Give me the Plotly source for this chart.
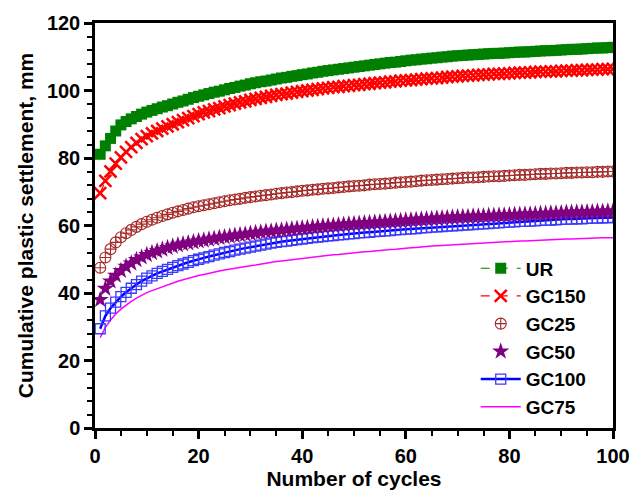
import plotly.graph_objects as go

cycles = list(range(1, 101))

ur = [81.1, 83.6, 85.8, 88.0, 89.8, 90.8, 91.6, 92.3, 93.0, 93.6,
      94.1, 94.6, 95.1, 95.5, 96.0, 96.5, 96.9, 97.4, 97.9, 98.3,
      98.7, 99.1, 99.5, 99.8, 100.2, 100.6, 100.9, 101.3, 101.6, 102.0,
      102.3, 102.6, 102.8, 103.1, 103.4, 103.7, 103.9, 104.2, 104.4, 104.7,
      104.9, 105.2, 105.4, 105.7, 105.9, 106.1, 106.3, 106.5, 106.7, 106.9,
      107.1, 107.3, 107.5, 107.7, 107.9, 108.1, 108.3, 108.4, 108.6, 108.8,
      109.0, 109.1, 109.3, 109.4, 109.6, 109.7, 109.9, 110.0, 110.2, 110.3,
      110.4, 110.5, 110.6, 110.7, 110.8, 110.9, 111.0, 111.0, 111.1, 111.2,
      111.3, 111.4, 111.4, 111.5, 111.6, 111.7, 111.8, 111.8, 111.9, 112.0,
      112.1, 112.2, 112.2, 112.3, 112.4, 112.5, 112.6, 112.6, 112.7, 112.8]

gc150 = [69.6, 73.2, 76.0, 78.3, 80.2, 81.8, 83.2, 84.5, 85.6, 86.5,
         87.3, 88.0, 88.7, 89.4, 90.0, 90.6, 91.2, 91.8, 92.4, 93.0,
         93.5, 93.9, 94.4, 94.8, 95.3, 95.7, 96.1, 96.5, 96.8, 97.2,
         97.5, 97.8, 98.1, 98.4, 98.7, 98.9, 99.1, 99.4, 99.6, 99.8,
         100.0, 100.2, 100.4, 100.6, 100.8, 101.0, 101.1, 101.3, 101.4, 101.6,
         101.7, 101.9, 102.0, 102.2, 102.3, 102.4, 102.6, 102.7, 102.9, 103.0,
         103.1, 103.2, 103.4, 103.5, 103.6, 103.7, 103.8, 104.0, 104.1, 104.2,
         104.3, 104.4, 104.5, 104.6, 104.7, 104.8, 104.9, 104.9, 105.0, 105.1,
         105.2, 105.3, 105.3, 105.4, 105.5, 105.6, 105.6, 105.7, 105.7, 105.8,
         105.9, 105.9, 106.0, 106.0, 106.1, 106.2, 106.2, 106.3, 106.3, 106.4]

gc25 = [47.5, 50.5, 53.0, 55.0, 56.5, 57.7, 58.7, 59.6, 60.4, 61.1,
        61.7, 62.3, 62.8, 63.3, 63.8, 64.2, 64.6, 65.0, 65.4, 65.7,
        66.0, 66.3, 66.6, 66.9, 67.2, 67.5, 67.7, 67.9, 68.2, 68.4,
        68.6, 68.8, 69.0, 69.2, 69.4, 69.6, 69.8, 69.9, 70.1, 70.3,
        70.4, 70.6, 70.7, 70.9, 71.0, 71.1, 71.3, 71.4, 71.6, 71.7,
        71.8, 71.9, 72.1, 72.2, 72.3, 72.4, 72.5, 72.7, 72.8, 72.9,
        73.0, 73.1, 73.3, 73.4, 73.5, 73.6, 73.7, 73.8, 73.9, 74.0,
        74.1, 74.2, 74.2, 74.3, 74.4, 74.5, 74.6, 74.6, 74.7, 74.8,
        74.9, 75.0, 75.0, 75.1, 75.2, 75.3, 75.3, 75.4, 75.4, 75.5,
        75.6, 75.6, 75.7, 75.7, 75.8, 75.8, 75.9, 75.9, 76.0, 76.0]

gc50 = [38.0, 41.3, 43.5, 45.2, 46.6, 47.8, 48.8, 49.8, 50.6, 51.3,
        51.9, 52.4, 52.9, 53.4, 53.8, 54.2, 54.5, 54.8, 55.1, 55.4,
        55.6, 55.9, 56.1, 56.4, 56.6, 56.8, 57.0, 57.2, 57.4, 57.6,
        57.8, 58.0, 58.2, 58.3, 58.5, 58.6, 58.8, 58.9, 59.1, 59.2,
        59.3, 59.5, 59.6, 59.8, 59.9, 60.0, 60.1, 60.3, 60.4, 60.5,
        60.6, 60.7, 60.8, 60.9, 61.0, 61.1, 61.2, 61.3, 61.4, 61.5,
        61.6, 61.7, 61.8, 61.9, 62.0, 62.1, 62.2, 62.3, 62.4, 62.5,
        62.6, 62.6, 62.7, 62.7, 62.8, 62.9, 62.9, 63.0, 63.0, 63.1,
        63.2, 63.2, 63.3, 63.3, 63.4, 63.5, 63.5, 63.6, 63.6, 63.7,
        63.8, 63.8, 63.9, 63.9, 64.0, 64.0, 64.1, 64.1, 64.2, 64.2]

gc100 = [29.4, 33.2, 35.5, 37.3, 38.9, 40.2, 41.4, 42.5, 43.5, 44.4,
         45.1, 45.8, 46.4, 47.0, 47.6, 48.1, 48.6, 49.1, 49.6, 50.0,
         50.4, 50.8, 51.2, 51.6, 52.0, 52.3, 52.7, 53.0, 53.3, 53.6,
         53.9, 54.2, 54.5, 54.8, 55.0, 55.2, 55.4, 55.6, 55.8, 56.0,
         56.2, 56.4, 56.6, 56.7, 56.9, 57.0, 57.2, 57.3, 57.5, 57.6,
         57.8, 57.9, 58.0, 58.2, 58.3, 58.4, 58.5, 58.7, 58.8, 58.9,
         59.0, 59.1, 59.3, 59.4, 59.5, 59.6, 59.7, 59.8, 59.9, 60.0,
         60.1, 60.2, 60.3, 60.4, 60.5, 60.6, 60.7, 60.8, 60.9, 61.0,
         61.1, 61.2, 61.2, 61.3, 61.4, 61.5, 61.6, 61.6, 61.7, 61.8,
         61.9, 61.9, 62.0, 62.0, 62.1, 62.2, 62.2, 62.3, 62.3, 62.4]

gc75 = [26.8, 29.8, 32.0, 33.8, 35.2, 36.4, 37.5, 38.5, 39.4, 40.1,
        40.7, 41.3, 41.9, 42.5, 43.0, 43.5, 43.9, 44.4, 44.8, 45.2,
        45.5, 45.9, 46.2, 46.5, 46.8, 47.1, 47.3, 47.6, 47.9, 48.1,
        48.3, 48.6, 48.8, 49.1, 49.3, 49.5, 49.7, 49.9, 50.1, 50.3,
        50.5, 50.6, 50.8, 50.9, 51.1, 51.3, 51.4, 51.6, 51.7, 51.9,
        52.0, 52.2, 52.3, 52.5, 52.6, 52.7, 52.9, 53.0, 53.2, 53.3,
        53.4, 53.5, 53.7, 53.8, 53.9, 54.0, 54.1, 54.2, 54.3, 54.4,
        54.5, 54.6, 54.6, 54.7, 54.8, 54.9, 55.0, 55.0, 55.1, 55.2,
        55.3, 55.4, 55.4, 55.5, 55.6, 55.7, 55.7, 55.8, 55.8, 55.9,
        56.0, 56.0, 56.1, 56.1, 56.2, 56.3, 56.3, 56.4, 56.4, 56.4]

FONT = "Liberation Sans, Arial, sans-serif"

fig = go.Figure()
fig.add_trace(go.Scatter(x=cycles, y=gc75, name="GC75", mode="lines",
                         line=dict(color="#FF00FF", width=1.5)))
fig.add_trace(go.Scatter(x=cycles, y=gc100, name="GC100", mode="lines+markers",
                         line=dict(color="#0000FF", width=2.5),
                         marker=dict(symbol="square-open", size=10, color="#3A3AFF",
                                     line=dict(width=1.3))))
fig.add_trace(go.Scatter(x=cycles, y=gc50, name="GC50", mode="markers",
                         marker=dict(symbol="star", size=13, color="#800080")))
fig.add_trace(go.Scatter(x=cycles, y=gc25, name="GC25", mode="markers",
                         marker=dict(symbol="circle-cross-open", size=11, color="#A52A2A",
                                     line=dict(width=1.1))))
fig.add_trace(go.Scatter(x=cycles, y=gc150, name="GC150", mode="lines+markers",
                         line=dict(color="#FF0000", width=1.2, dash="dash"),
                         marker=dict(symbol="x-thin", size=12, color="#FF0000",
                                     line=dict(width=2.5, color="#FF0000"))))
fig.add_trace(go.Scatter(x=cycles, y=ur, name="UR", mode="lines+markers",
                         line=dict(color="#008000", width=1.2, dash="dash"),
                         marker=dict(symbol="square", size=11, color="#008000")))

axis_common = dict(
    showline=True, linecolor="black", linewidth=2.5, mirror=True,
    ticks="outside", tickwidth=2.5, ticklen=8, tickcolor="black",
    showgrid=False, zeroline=False,
    tickfont=dict(family=FONT, size=20, color="black", weight="bold"),
)

fig.update_xaxes(range=[0, 100], dtick=20, tick0=0,
                 title=dict(text="Number of cycles", standoff=2,
                            font=dict(family=FONT, size=21, color="black", weight="bold")),
                 minor=dict(ticks="outside", dtick=5, ticklen=5, tickwidth=2, tickcolor="black"),
                 **axis_common)
fig.update_yaxes(range=[0, 120], dtick=20, tick0=0,
                 title=dict(text="Cumulative plastic settlement, mm", standoff=8,
                            font=dict(family=FONT, size=21, color="black", weight="bold")),
                 minor=dict(ticks="outside", dtick=4, ticklen=5, tickwidth=2, tickcolor="black"),
                 **axis_common)

fig.update_layout(
    width=642, height=495,
    margin=dict(l=95, r=27, t=18, b=60),
    plot_bgcolor="white", paper_bgcolor="white",
    font=dict(family=FONT, color="black"),
    legend=dict(x=0.735, y=0.441, xanchor="left", yanchor="top",
                traceorder="reversed", bgcolor="rgba(0,0,0,0)",
                font=dict(family=FONT, size=19, color="black", weight="bold"),
                itemwidth=40, tracegroupgap=0),
    showlegend=True,
)

fig.write_html("out.html")
